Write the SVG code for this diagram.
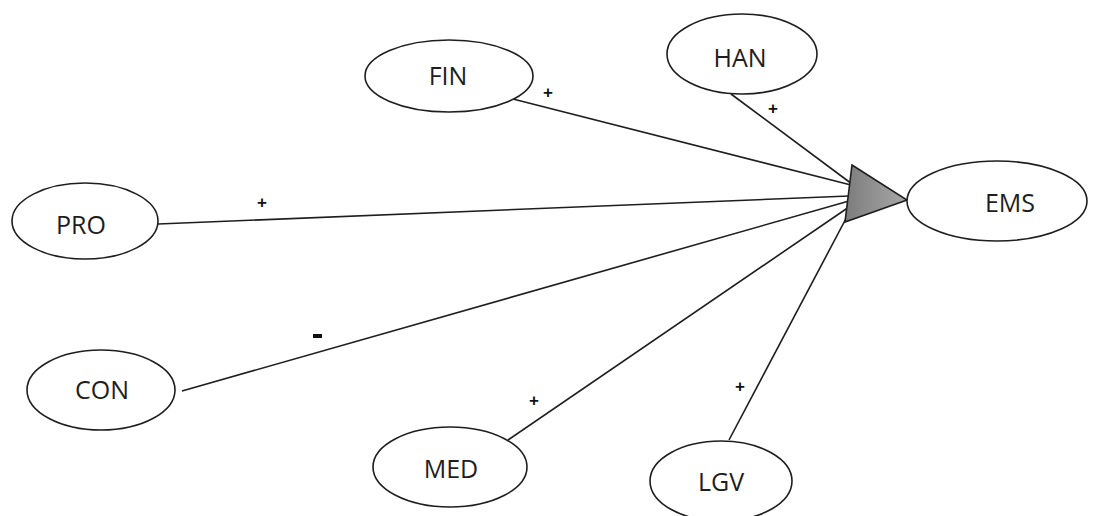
<svg xmlns="http://www.w3.org/2000/svg" width="1099" height="516" viewBox="0 0 1099 516">
  <style>
    .node ellipse { fill: #ffffff; stroke: #1e1e1e; stroke-width: 1.6; }
    .node text { font-family: "Open Sans", "Liberation Sans", sans-serif; font-size: 25px; fill: #1e1e1e; text-anchor: middle; }
    .edges line { stroke: #1e1e1e; stroke-width: 1.6; }
    .sign { font-family: "Liberation Sans", sans-serif; font-size: 17px; font-weight: bold; fill: #111111; text-anchor: middle; }
  </style>
  <defs>
    <linearGradient id="headFill" x1="0" y1="0" x2="1" y2="0">
      <stop offset="0" stop-color="#7c7c7c"/>
      <stop offset="1" stop-color="#a8a8a8"/>
    </linearGradient>
  </defs>
  <rect width="1099" height="516" fill="#ffffff"/>

  <g class="edges">
    <line x1="509" y1="98" x2="851" y2="185"/>
    <line x1="731" y1="94" x2="852" y2="184"/>
    <line x1="158" y1="224" x2="849" y2="196"/>
    <line x1="182" y1="391" x2="849" y2="201"/>
    <line x1="508" y1="440" x2="849" y2="207"/>
    <line x1="729" y1="440" x2="850" y2="211"/>
    <text class="sign" x="548" y="98">+</text>
    <text class="sign" x="773" y="114">+</text>
    <text class="sign" x="262" y="208">+</text>
    <rect x="313" y="334" width="9" height="4" fill="#111111"/>
    <text class="sign" x="534" y="406">+</text>
    <text class="sign" x="740" y="392">+</text>
  </g>

  <!-- arrowhead where all influences meet -->
  <polygon id="junction" points="852,165 907,200 845,222" fill="url(#headFill)" stroke="#1e1e1e" stroke-width="1.6" stroke-linejoin="miter"/>

  <g id="FIN" class="node">
    <ellipse cx="449" cy="76" rx="84" ry="36"/>
    <text x="448" y="85">FIN</text>
  </g>
  <g id="HAN" class="node">
    <ellipse cx="742" cy="54" rx="75" ry="40"/>
    <text x="740" y="67">HAN</text>
  </g>
  <g id="EMS" class="node">
    <ellipse cx="997" cy="201" rx="90" ry="40"/>
    <text x="1010" y="212">EMS</text>
  </g>
  <g id="PRO" class="node">
    <ellipse cx="85" cy="221" rx="73" ry="38"/>
    <text x="81" y="234">PRO</text>
  </g>
  <g id="CON" class="node">
    <ellipse cx="101" cy="390" rx="74" ry="40"/>
    <text x="102" y="399">CON</text>
  </g>
  <g id="MED" class="node">
    <ellipse cx="450" cy="467" rx="77" ry="40"/>
    <text x="451" y="478">MED</text>
  </g>
  <g id="LGV" class="node">
    <ellipse cx="721" cy="481" rx="71" ry="40"/>
    <text x="721" y="491">LGV</text>
  </g>
</svg>
